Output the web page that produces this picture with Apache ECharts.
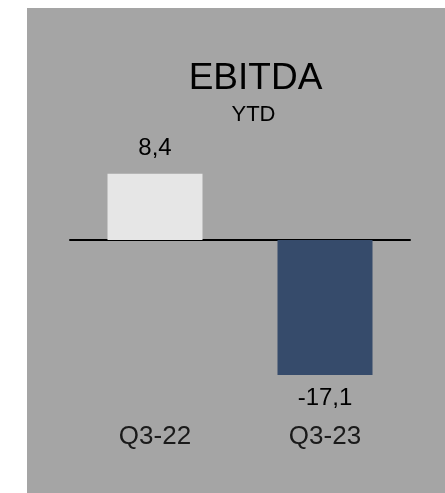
<!DOCTYPE html>
<html>
<head>
<meta charset="utf-8">
<script src="https://cdn.jsdelivr.net/npm/echarts@6/dist/echarts.min.js"></script>
<style>
html,body{margin:0;padding:0;background:#fff;}
#c{width:445px;height:493px;}
</style>
</head>
<body>
<div id="c"></div>
<script>
const categories = ['Q3-22', 'Q3-23'];
const values = [8.4, -17.1];
const barColors = ['#e6e6e6', '#364b6b'];
const titleText = 'EBITDA';
const subtitleText = 'YTD';

const fmt = v => v.toFixed(1).replace('.', ',');
const FONT = '"Liberation Sans", Arial, sans-serif';

const chart = echarts.init(document.getElementById('c'), null, {renderer: 'canvas'});
chart.setOption({
  backgroundColor: '#ffffff',
  animation: false,
  graphic: [
    {type: 'rect', z: -10, shape: {x: 27, y: 8, width: 418, height: 485}, style: {fill: '#a5a5a5'}},
    {type: 'text', x: 255.5, y: 79, style: {text: titleText, font: '37px ' + FONT, fill: '#000', align: 'center', verticalAlign: 'middle'}},
    {type: 'text', x: 253.5, y: 115, style: {text: subtitleText, font: '22px ' + FONT, fill: '#000', align: 'center', verticalAlign: 'middle'}}
  ],
  grid: {left: 70, width: 340, top: 161, height: 237, containLabel: false},
  xAxis: [
    {type: 'category', data: categories, axisLine: {onZero: true, lineStyle: {color: '#000', width: 2}}, axisTick: {show: false}, axisLabel: {show: false}, splitLine: {show: false}},
    {type: 'category', data: categories, position: 'bottom', axisLine: {show: false, onZero: false}, axisTick: {show: false},
     axisLabel: {show: true, margin: 26, fontSize: 26, fontFamily: FONT, color: '#1a1a1a'}}
  ],
  yAxis: {type: 'value', min: -20, max: 10, show: false, splitLine: {show: false}},
  series: [{
    type: 'bar',
    barWidth: 95,
    data: values.map((v, i) => ({
      value: v,
      itemStyle: {color: barColors[i]},
      label: {show: true, position: v >= 0 ? 'top' : 'bottom', distance: v >= 0 ? 13 : 11,
              formatter: p => fmt(p.value), fontSize: 24, fontFamily: FONT, color: '#000'}
    }))
  }]
});
</script>
</body>
</html>
